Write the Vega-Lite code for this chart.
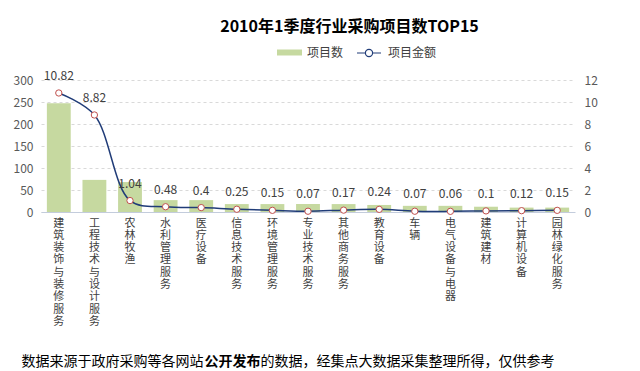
{
  "$schema": "https://vega.github.io/schema/vega-lite/v6.json",
  "width": 534,
  "height": 132,
  "autosize": "none",
  "padding": {"left": 41, "top": 80, "right": 65, "bottom": 159},
  "background": "white",
  "config": {
    "font": "Noto Sans CJK SC",
    "view": {"stroke": null},
    "legend": {"padding": 0, "labelFontSize": 12, "labelColor": "#404040", "title": null}
  },
  "title": {
    "text": "2010年1季度行业采购项目数TOP15",
    "fontSize": 16,
    "fontWeight": "bold",
    "color": "#000000",
    "anchor": "middle",
    "frame": "group",
    "dx": 41.5,
    "offset": 5
  },
  "data": {
    "values": [
      {"name": "建筑装饰与装修服务", "count": 247, "amount": 10.82},
      {"name": "工程技术与设计服务", "count": 73, "amount": 8.82},
      {"name": "农林牧渔", "count": 68, "amount": 1.04},
      {"name": "水利管理服务", "count": 27, "amount": 0.48},
      {"name": "医疗设备", "count": 27, "amount": 0.4},
      {"name": "信息技术服务", "count": 18, "amount": 0.25},
      {"name": "环境管理服务", "count": 18, "amount": 0.15},
      {"name": "专业技术服务", "count": 18, "amount": 0.07},
      {"name": "其他商务服务", "count": 18, "amount": 0.17},
      {"name": "教育设备", "count": 16, "amount": 0.24},
      {"name": "车辆", "count": 14, "amount": 0.07},
      {"name": "电气设备与电器", "count": 14, "amount": 0.06},
      {"name": "建筑建材", "count": 12, "amount": 0.1},
      {"name": "计算机设备", "count": 10, "amount": 0.12},
      {"name": "园林绿化服务", "count": 10, "amount": 0.15}
    ]
  },
  "layer": [
    {
      "mark": {"type": "bar", "opacity": 1},
      "encoding": {
        "x": {
          "field": "name",
          "type": "nominal",
          "sort": null,
          "scale": {"paddingInner": 0.33, "paddingOuter": 0.165},
          "axis": {
            "labelExpr": "split(datum.label, '')",
            "labelAngle": 0,
            "labelBaseline": "top",
            "labelAlign": "center",
            "labelFontSize": 11,
            "labelLineHeight": 12.3,
            "labelPadding": 5,
            "labelColor": "#404040",
            "ticks": false,
            "domain": true,
            "domainColor": "#C3CCDC",
            "domainWidth": 1,
            "grid": false,
            "title": "数据来源于政府采购等各网站",
            "titleFontSize": 14,
            "titleFontWeight": "normal",
            "titleColor": "#000000",
            "titleAlign": "left",
            "titleAnchor": "start",
            "titleBaseline": "alphabetic",
            "titleX": -20,
            "titleY": 153
          }
        },
        "y": {
          "field": "count",
          "type": "quantitative",
          "scale": {"domain": [0, 300]},
          "axis": {
            "values": [0, 50, 100, 150, 200, 250, 300],
            "labelOverlap": false,
            "labelFontSize": 12,
            "labelColor": "#595959",
            "labelPadding": 8,
            "ticks": false,
            "domain": false,
            "grid": true,
            "gridColor": "#D9D9D9",
            "gridDash": [3, 3],
            "title": "公开发布",
            "titleAngle": 0,
            "titleFontSize": 14,
            "titleFontWeight": "bold",
            "titleColor": "#000000",
            "titleAlign": "left",
            "titleBaseline": "alphabetic",
            "titleX": 163,
            "titleY": 285
          }
        },
        "color": {
          "datum": "项目数",
          "scale": {"range": ["#C6D9A0"]},
          "legend": {
            "orient": "none",
            "legendX": 236,
            "legendY": -40,
            "symbolType": "M-1,-0.24H1V0.24H-1Z",
            "symbolSize": 625,
            "symbolStrokeWidth": 0,
            "labelOffset": 5
          }
        }
      }
    },
    {
      "encoding": {
        "x": {"field": "name", "type": "nominal", "sort": null},
        "y": {
          "field": "amount",
          "type": "quantitative",
          "scale": {"domain": [0, 12]},
          "axis": {
            "orient": "right",
            "values": [0, 2, 4, 6, 8, 10, 12],
            "labelOverlap": false,
            "labelFontSize": 12,
            "labelColor": "#595959",
            "labelPadding": 9,
            "ticks": false,
            "domain": false,
            "grid": false,
            "title": "的数据，经集点大数据采集整理所得，仅供参考",
            "titleAngle": 0,
            "titleFontSize": 14,
            "titleFontWeight": "normal",
            "titleColor": "#000000",
            "titleAlign": "left",
            "titleBaseline": "alphabetic",
            "titleX": -315,
            "titleY": 285
          }
        }
      },
      "layer": [
        {
          "mark": {"type": "line", "interpolate": "catmull-rom", "strokeWidth": 1.5},
          "encoding": {
            "stroke": {
              "datum": "项目金额",
              "scale": {"range": ["#203C78"]},
              "legend": {
                "orient": "none",
                "legendX": 315,
                "legendY": -40,
                "symbolType": "M-1,0H-0.3M0.3,0H1M0.3,0A0.3,0.3,0,1,1,-0.3,0A0.3,0.3,0,1,1,0.3,0",
                "symbolSize": 576,
                "symbolStrokeWidth": 1.2,
                "labelOffset": 6
              }
            }
          }
        },
        {
          "mark": {"type": "point", "shape": "circle", "filled": true, "fill": "white", "stroke": "#C0504D", "strokeWidth": 1, "size": 40, "opacity": 1},
          "encoding": {}
        },
        {
          "mark": {"type": "text", "baseline": "middle", "dy": -17, "fontSize": 12, "color": "#404040"},
          "encoding": {
            "text": {"field": "amount", "type": "quantitative", "format": "~r"}
          }
        }
      ]
    }
  ],
  "resolve": {"scale": {"y": "independent", "color": "independent"}}
}
